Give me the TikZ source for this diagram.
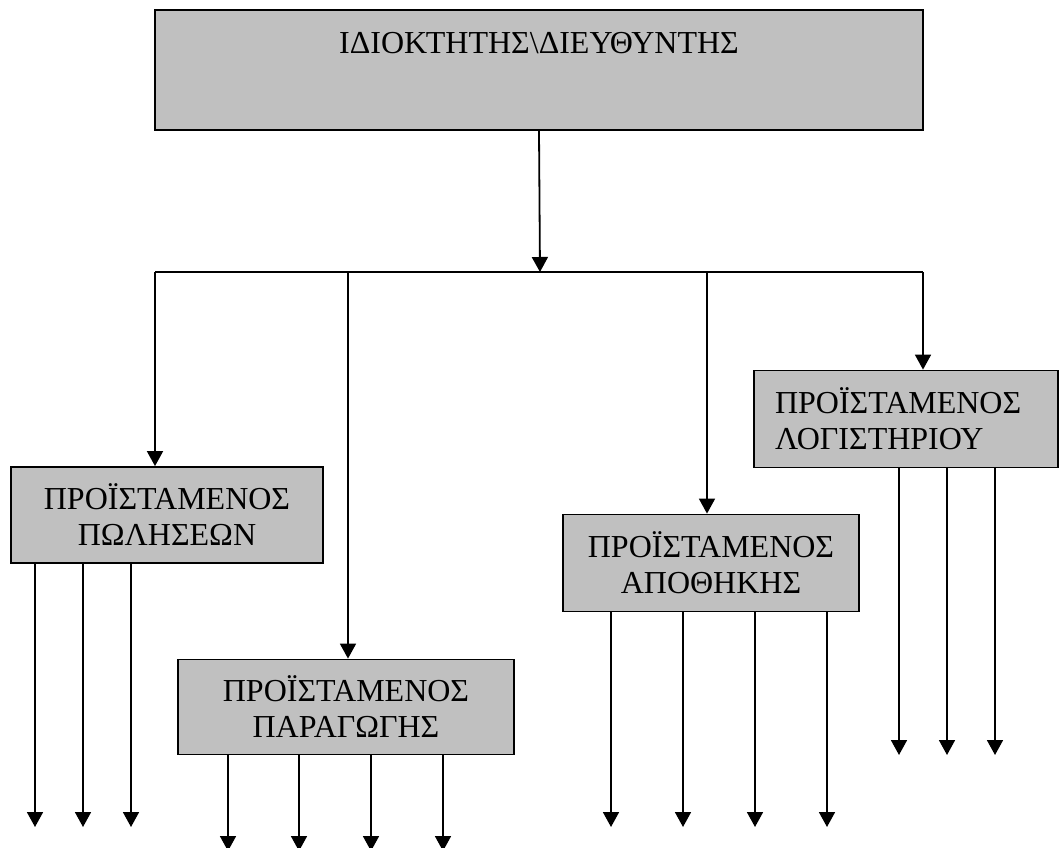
\documentclass[tikz,border=0pt]{standalone}
\usepackage{fontspec}
\setmainfont{Liberation Serif}
\usetikzlibrary{arrows.meta}
\definecolor{boxgray}{RGB}{192,192,192}

\begin{document}
\begin{tikzpicture}[x=1pt,y=-1pt,
    box/.style={draw,line width=1.8pt,fill=boxgray,inner sep=0pt,align=center,
      font=\fontsize{32}{36}\selectfont},
    arr/.style={line width=1.8pt,-{Triangle[width=16pt,length=15pt]}}]
    \useasboundingbox (0,0) rectangle (1061,848);
    %owner on top, text near its upper edge
    \node[box,minimum width=768pt,text height=44pt,text depth=76pt] (owner) at (539,70) {ΙΔΙΟΚΤΗΤΗΣ\textbackslash ΔΙΕΥΘΥΝΤΗΣ};
    %the four heads
    \node[box,minimum width=312pt,minimum height=96pt] (sales) at (167,515) {ΠΡΟΪΣΤΑΜΕΝΟΣ\\ΠΩΛΗΣΕΩΝ};
    \node[box,minimum width=336pt,minimum height=95pt] (prod) at (346,707) {ΠΡΟΪΣΤΑΜΕΝΟΣ\\ΠΑΡΑΓΩΓΗΣ};
    \node[box,minimum width=296pt,minimum height=97pt] (store) at (711,563) {ΠΡΟΪΣΤΑΜΕΝΟΣ\\ΑΠΟΘΗΚΗΣ};
    \node[box,align=left,inner xsep=21pt,text width=262pt,minimum height=97pt] (acct) at (906,419) {ΠΡΟΪΣΤΑΜΕΝΟΣ\\ΛΟΓΙΣΤΗΡΙΟΥ};
    %branching
    \coordinate (split) at (540,272);
    \coordinate (b1) at (155,272);
    \coordinate (b2) at (348,272);
    \coordinate (b3) at (707,272);
    \coordinate (b4) at (923,272);
    \draw[arr] (owner.south) -- (split);
    \draw[line width=1.8pt] (b1) -- (b4);
    \draw[arr] (b1) -- (b1 |- sales.north);
    \draw[arr] (b2) -- (b2 |- prod.north);
    \draw[arr] (b3) -- (b3 |- store.north);
    \draw[arr] (b4) -- (b4 |- acct.north);
    %arrows out of each box
    \foreach \x in {35,83,131} \draw[arr] (\x,0 |- sales.south) -- (\x,827);
    \foreach \x in {228,299,371,443} \draw[arr] (\x,0 |- prod.south) -- (\x,851);
    \foreach \x in {611,683,755,827} \draw[arr] (\x,0 |- store.south) -- (\x,827);
    \foreach \x in {899,947,995} \draw[arr] (\x,0 |- acct.south) -- (\x,755);
\end{tikzpicture}
\end{document}
